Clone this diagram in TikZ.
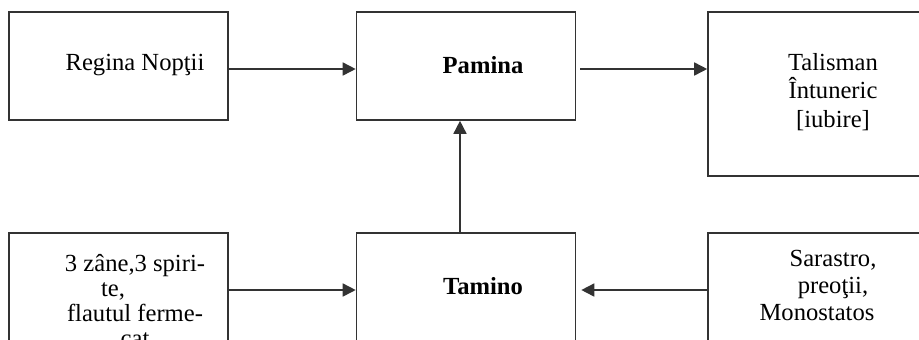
\documentclass[tikz,border=0pt]{standalone}
\usepackage{fontspec}
\setmainfont{Liberation Serif}
\usepackage{tikz}
\usetikzlibrary{arrows.meta}
\tikzstyle{box} = [rectangle, draw=black!80, line width=0.8pt, inner sep=0pt, minimum width=109.5pt, minimum height=54pt]
\tikzstyle{wide} = [minimum width=116pt]
\tikzstyle{txt} = [inner sep=0pt, align=center, font=\fontsize{12.3}{13.5}\selectfont]
\tikzstyle{arrow} = [line width=0.8pt, draw=black!80, -{Triangle[length=6.5pt,width=6.5pt]}]

\begin{document}
\begin{tikzpicture}[x=0.5pt, y=-0.5pt, node distance=173.75pt]
    \clip (0,0) rectangle (919,339);
    % upper row
    \node (Regina) [box] at (118.5,66) {};
    \node (Pamina) [box, right of = Regina] {};
    \node (Talisman) [box, wide, minimum height=82pt, right of = Pamina, xshift = 5.25pt, yshift = -14pt] {};
    % lower row, cut off at the bottom
    \node (Zane) [box, minimum height=60pt, below of = Regina, node distance = 113.5pt] {};
    \node (Tamino) [box, minimum height=60pt, below of = Pamina, node distance = 113.5pt] {};
    \node (Sarastro) [box, wide, minimum height=60pt, below of = Talisman, node distance = 99.5pt] {};

    \node (ReginaTxt) [txt] at ([xshift=8.25pt, yshift=0.5pt]Regina.center) {Regina Nopţii};
    \node (PaminaTxt) [txt, font=\fontsize{12.3}{13.5}\selectfont\bfseries] at ([xshift=8.5pt, yshift=0.5pt]Pamina.center) {Pamina};
    \node (TalismanTxt) [txt, font=\fontsize{12.3}{14.2}\selectfont] at ([xshift=4.5pt, yshift=1pt]Talisman.center) {Talisman\\Întuneric\\{[iubire]}};
    \node (ZaneTxt) [txt, font=\fontsize{12.3}{12.5}\selectfont] at ([xshift=8.25pt, yshift=-3.75pt]Zane.center) {3 zâne,3 spiri-\\te,\rule{22pt}{0pt}\\flautul ferme-\\cat};
    \node (TaminoTxt) [txt, font=\fontsize{12.3}{13.5}\selectfont\bfseries] at ([xshift=8.5pt, yshift=3.5pt]Tamino.center) {Tamino};
    \node (SarastroTxt) [txt] at ([xshift=4.5pt, yshift=4pt]Sarastro.center) {Sarastro,\\preoţii,\\Monostatos\rule{16pt}{0pt}};

    \draw [arrow] ([yshift=-1.5pt]Regina.east) -- ([yshift=-1.5pt]Pamina.west);
    \draw [arrow, shorten <=2pt] ([yshift=-1.5pt]Pamina.east) -- ([yshift=-1.5pt]Pamina.east -| Talisman.west);
    \draw [arrow] ([xshift=-3pt]Tamino.north) -- ([xshift=-3pt]Pamina.south);
    \draw [arrow] ([yshift=1.5pt]Zane.east) -- ([yshift=1.5pt]Tamino.west);
    \draw [arrow, shorten >=2.5pt] ([yshift=1.5pt]Sarastro.west) -- ([yshift=1.5pt]Tamino.east);
\end{tikzpicture}
\end{document}
